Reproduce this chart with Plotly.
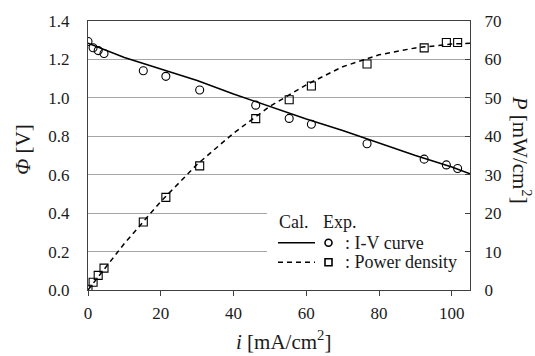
import plotly.graph_objects as go

# ---------------- data ----------------
i_exp = [0, 1.4, 2.8, 4.4, 15.2, 21.4, 30.7, 46.1, 55.3, 61.4, 76.7, 92.4, 98.5, 101.6]
phi_exp = [1.293, 1.261, 1.246, 1.231, 1.141, 1.112, 1.041, 0.962, 0.893, 0.863, 0.761, 0.681, 0.651, 0.632]
p_exp = [0.2, 2.0, 3.8, 5.7, 17.7, 24.1, 32.3, 44.6, 49.5, 53.1, 58.8, 63.0, 64.4, 64.4]

i_cal = [0, 10, 20, 30, 40, 50, 60, 70, 80, 90, 100, 105]
phi_cal = [1.285, 1.21, 1.15, 1.09, 1.02, 0.955, 0.89, 0.83, 0.765, 0.70, 0.64, 0.605]
p_cal = [0, 12.1, 23.0, 32.7, 40.8, 47.8, 53.4, 58.1, 61.2, 63.0, 64.0, 64.2]

x_ticks = [0, 20, 40, 60, 80, 100]
y1_ticks = [0.0, 0.2, 0.4, 0.6, 0.8, 1.0, 1.2, 1.4]
y2_ticks = [0, 10, 20, 30, 40, 50, 60, 70]

FONT = "Times New Roman, Liberation Serif, serif"
TXT = "#1a1a1a"
AX = "#404040"
TICKFONT = dict(family=FONT, size=17, color=TXT)

fig = go.Figure()
fig.add_trace(go.Scatter(x=i_cal, y=phi_cal, mode="lines",
                         line=dict(color="black", width=1.5), showlegend=False))
fig.add_trace(go.Scatter(x=i_cal, y=p_cal, mode="lines", yaxis="y2",
                         line=dict(color="black", width=1.5, dash="5px,4px"), showlegend=False))
fig.add_trace(go.Scatter(x=i_exp, y=phi_exp, mode="markers",
                         marker=dict(symbol="circle-open", size=8, color="black",
                                     line=dict(width=1.1, color="black")), showlegend=False))
fig.add_trace(go.Scatter(x=i_exp, y=p_exp, mode="markers", yaxis="y2",
                         marker=dict(symbol="square-open", size=8, color="black",
                                     line=dict(width=1.1, color="black")), showlegend=False))

# ---------------- legend (custom) ----------------
L, R, T, B = 88, 470, 14, 290
def px(xp):
    return (xp - L) / (R - L)
def py(yp):
    return (B - yp) / (B - T)

shapes = []
shapes.append(dict(type="rect", xref="paper", yref="paper",
                   x0=px(267), x1=px(465), y0=py(277), y1=py(204),
                   fillcolor="white", line=dict(width=0), layer="above"))
shapes.append(dict(type="line", xref="paper", yref="paper",
                   x0=px(278), x1=px(315), y0=py(241.5), y1=py(241.5),
                   line=dict(color="black", width=1.5), layer="above"))
shapes.append(dict(type="line", xref="paper", yref="paper",
                   x0=px(278), x1=px(315), y0=py(261.5), y1=py(261.5),
                   line=dict(color="black", width=1.5, dash="5px,4px"), layer="above"))
shapes.append(dict(type="circle", xref="paper", yref="paper",
                   xsizemode="pixel", ysizemode="pixel",
                   xanchor=px(328.5), yanchor=py(241.5),
                   x0=-3.5, x1=3.5, y0=-3.5, y1=3.5,
                   line=dict(color="black", width=1.6), layer="above"))
shapes.append(dict(type="rect", xref="paper", yref="paper",
                   xsizemode="pixel", ysizemode="pixel",
                   xanchor=px(328.5), yanchor=py(261.5),
                   x0=-3.5, x1=3.5, y0=-3.5, y1=3.5,
                   line=dict(color="black", width=1.6), layer="above"))

ann = []
def text(x, y, s, size=18, xanchor="left", angle=0):
    ann.append(dict(xref="paper", yref="paper", x=px(x), y=py(y), text=s,
                    showarrow=False, xanchor=xanchor, yanchor="middle",
                    textangle=angle, font=dict(family=FONT, size=size, color=TXT)))

text(277, 220, "Cal.")
text(321, 220, "Exp.")
text(343, 241.5, ": I-V curve")
text(343, 261.5, ": Power density")
# axis titles
text(23, 146, "<i>Φ</i> [V]", size=21, xanchor="center", angle=-90)
text(521, 146, "<i>P</i> [mW/cm<sup>2</sup>]", size=21, xanchor="center", angle=90)
text(283, 342, "<i>i</i> [mA/cm<sup>2</sup>]", size=21, xanchor="center")

fig.update_layout(
    width=535, height=356,
    margin=dict(l=L, r=535 - R, t=T, b=356 - B),
    paper_bgcolor="white", plot_bgcolor="white",
    font=dict(family=FONT, size=17, color=TXT),
    shapes=shapes, annotations=ann,
    xaxis=dict(range=[0, 105], tickvals=x_ticks, ticks="outside", ticklen=5,
               tickcolor=AX, showline=True, linecolor=AX, linewidth=1.2,
               mirror=True, showgrid=False, zeroline=False,
               ticklabelstandoff=2, tickfont=TICKFONT),
    yaxis=dict(range=[0, 1.4], tickvals=y1_ticks, tickformat=".1f", ticks="",
               showline=True, linecolor=AX, linewidth=1.2, showgrid=True,
               gridcolor="#a6a6a6", gridwidth=1, zeroline=False,
               ticklabelstandoff=14, tickfont=TICKFONT),
    yaxis2=dict(range=[0, 70], tickvals=y2_ticks, overlaying="y", side="right",
                ticks="inside", ticklen=5, tickcolor=AX, showline=True,
                linecolor=AX, linewidth=1.2, showgrid=False, zeroline=False,
                ticklabelstandoff=10, tickfont=TICKFONT),
)

fig.write_html("out.html")
